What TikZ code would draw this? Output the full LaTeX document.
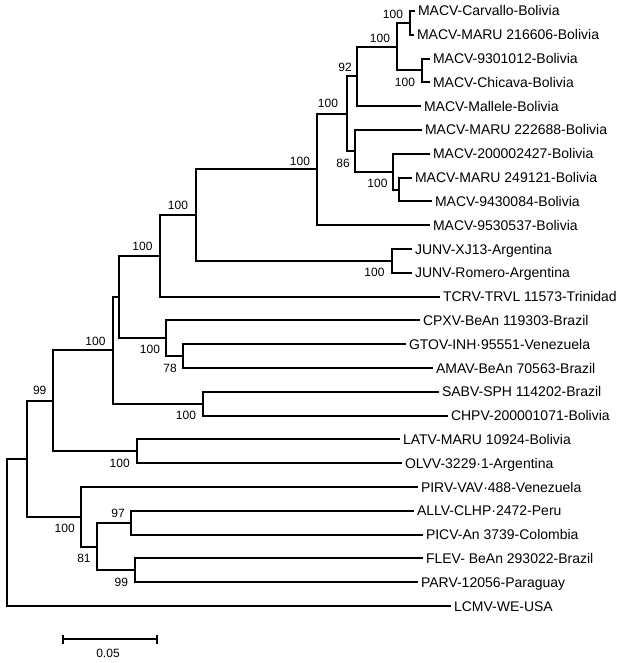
\documentclass[tikz,border=0pt]{standalone}
\usepackage{fontspec}
\setmainfont{Liberation Sans}
\usetikzlibrary{arrows.meta}

\begin{document}
\begin{tikzpicture}[x=1pt, y=-1pt]
    % Define styles
    \tikzstyle{taxon}=[anchor=west, inner sep=3pt, outer sep=0pt, text height=10pt, text depth=0pt, font=\fontsize{14}{16}\selectfont]
    \tikzstyle{boot}=[inner sep=0pt, text height=8.6pt, text depth=0pt, font=\fontsize{12}{14}\selectfont]
    \tikzstyle{branch}=[line width=2pt, line join=miter]

    \useasboundingbox (0,0) rectangle (631,663);

    % Taxa
    \node[taxon] (carvallo) at (415,11) {MACV-Carvallo-Bolivia};
    \node[taxon] (maru216) at (414,34.8) {MACV-MARU 216606-Bolivia};
    \node[taxon] (m9301) at (430,58.6) {MACV-9301012-Bolivia};
    \node[taxon] (chicava) at (430,82.4) {MACV-Chicava-Bolivia};
    \node[taxon] (mallele) at (421,106.2) {MACV-Mallele-Bolivia};
    \node[taxon] (maru222) at (422,130) {MACV-MARU 222688-Bolivia};
    \node[taxon] (m2000) at (430,153.8) {MACV-200002427-Bolivia};
    \node[taxon] (maru249) at (412,177.6) {MACV-MARU 249121-Bolivia};
    \node[taxon] (m9430) at (432,201.4) {MACV-9430084-Bolivia};
    \node[taxon] (m9530) at (430,225.2) {MACV-9530537-Bolivia};
    \node[taxon] (junxj) at (412,249) {JUNV-XJ13-Argentina};
    \node[taxon] (junrom) at (412,272.8) {JUNV-Romero-Argentina};
    \node[taxon] (tcrv) at (440,296.6) {TCRV-TRVL 11573-Trinidad};
    \node[taxon] (cpxv) at (420,320.4) {CPXV-BeAn 119303-Brazil};
    \node[taxon] (gtov) at (406,344.2) {GTOV-INH·95551-Venezuela};
    \node[taxon] (amav) at (433,368) {AMAV-BeAn 70563-Brazil};
    \node[taxon] (sabv) at (439,391.8) {SABV-SPH 114202-Brazil};
    \node[taxon] (chpv) at (448,415.6) {CHPV-200001071-Bolivia};
    \node[taxon] (latv) at (400,439.4) {LATV-MARU 10924-Bolivia};
    \node[taxon] (olvv) at (402,463.2) {OLVV-3229·1-Argentina};
    \node[taxon] (pirv) at (418,487) {PIRV-VAV·488-Venezuela};
    \node[taxon] (allv) at (414,510.8) {ALLV-CLHP·2472-Peru};
    \node[taxon] (picv) at (423,534.6) {PICV-An 3739-Colombia};
    \node[taxon] (flev) at (423,558.4) {FLEV- BeAn 293022-Brazil};
    \node[taxon] (parv) at (418,582.2) {PARV-12056-Paraguay};
    \node[taxon] (lcmv) at (451,606) {LCMV-WE-USA};

    % Internal nodes
    \coordinate (carvpair) at (410,22.9);
    \coordinate (chicpair) at (421.7,70.5);
    \coordinate (macvtop) at (396.7,46.7);
    \coordinate (macvA) at (357.3,76.45);
    \coordinate (marupair) at (399,189.5);
    \coordinate (macvB) at (393.3,171.65);
    \coordinate (macvC) at (355,150.8);
    \coordinate (macvin) at (346.7,113.6);
    \coordinate (macv) at (316.7,169.4);
    \coordinate (junpair) at (391.7,260.9);
    \coordinate (junmacv) at (195.7,215.15);
    \coordinate (tcrvclade) at (160,255.9);
    \coordinate (gtovpair) at (182.7,356.1);
    \coordinate (cpxvclade) at (165.7,338.25);
    \coordinate (cladeB) at (119,297.1);
    \coordinate (sabvpair) at (202.7,403.7);
    \coordinate (cladeBC) at (113.3,350.4);
    \coordinate (latvpair) at (136.7,451.3);
    \coordinate (newworld) at (53.3,400.85);
    \coordinate (allvpair) at (131,522.7);
    \coordinate (flevpair) at (134.7,570.3);
    \coordinate (cladeA) at (97.3,546.5);
    \coordinate (pirvclade) at (81,516.75);
    \coordinate (ingroup) at (26.7,458.8);
    \coordinate (root) at (6.7,532.4);

    % Bootstrap values
    \node[boot] (bcarv) at (393,14) {100};
    \node[boot] (btop) at (380,38) {100};
    \node[boot] (bchic) at (405,82) {100};
    \node[boot] (bA) at (345,67) {92};
    \node[boot] (bin) at (328,103) {100};
    \node[boot] (bC) at (343,163) {86};
    \node[boot] (bmaru) at (377.5,183) {100};
    \node[boot] (bmacv) at (300,161) {100};
    \node[boot] (bjun) at (374.5,272) {100};
    \node[boot] (bjunmacv) at (178,205) {100};
    \node[boot] (btcrv) at (142.5,246) {100};
    \node[boot] (bcpxv) at (150,349) {100};
    \node[boot] (bgtov) at (170,368) {78};
    \node[boot] (bsabv) at (186,415) {100};
    \node[boot] (bBC) at (95.5,341) {100};
    \node[boot] (bnew) at (39.7,390) {99};
    \node[boot] (blatv) at (119.7,463) {100};
    \node[boot] (bpirv) at (64.7,528) {100};
    \node[boot] (bA81) at (84,558) {81};
    \node[boot] (ballv) at (118,513) {97};
    \node[boot] (bflev) at (121.3,582) {99};

    % Branches
    \draw[branch] (carvpair) |- (carvallo.west);
    \draw[branch] (carvpair) |- (maru216.west);
    \draw[branch] (chicpair) |- (m9301.west);
    \draw[branch] (chicpair) |- (chicava.west);
    \draw[branch] (macvtop) |- (carvpair);
    \draw[branch] (macvtop) |- (chicpair);
    \draw[branch] (macvA) |- (macvtop);
    \draw[branch] (macvA) |- (mallele.west);
    \draw[branch] (marupair) |- (maru249.west);
    \draw[branch] (marupair) |- (m9430.west);
    \draw[branch] (macvB) |- (m2000.west);
    \draw[branch] (macvB) |- (marupair);
    \draw[branch] (macvC) |- (maru222.west);
    \draw[branch] (macvC) |- (macvB);
    \draw[branch] (macvin) |- (macvA);
    \draw[branch] (macvin) |- (macvC);
    \draw[branch] (macv) |- (macvin);
    \draw[branch] (macv) |- (m9530.west);
    \draw[branch] (junpair) |- (junxj.west);
    \draw[branch] (junpair) |- (junrom.west);
    \draw[branch] (junmacv) |- (macv);
    \draw[branch] (junmacv) |- (junpair);
    \draw[branch] (tcrvclade) |- (junmacv);
    \draw[branch] (tcrvclade) |- (tcrv.west);
    \draw[branch] (gtovpair) |- (gtov.west);
    \draw[branch] (gtovpair) |- (amav.west);
    \draw[branch] (cpxvclade) |- (cpxv.west);
    \draw[branch] (cpxvclade) |- (gtovpair);
    \draw[branch] (cladeB) |- (tcrvclade);
    \draw[branch] (cladeB) |- (cpxvclade);
    \draw[branch] (sabvpair) |- (sabv.west);
    \draw[branch] (sabvpair) |- (chpv.west);
    \draw[branch] (cladeBC) |- (cladeB);
    \draw[branch] (cladeBC) |- (sabvpair);
    \draw[branch] (latvpair) |- (latv.west);
    \draw[branch] (latvpair) |- (olvv.west);
    \draw[branch] (newworld) |- (cladeBC);
    \draw[branch] (newworld) |- (latvpair);
    \draw[branch] (allvpair) |- (allv.west);
    \draw[branch] (allvpair) |- (picv.west);
    \draw[branch] (flevpair) |- (flev.west);
    \draw[branch] (flevpair) |- (parv.west);
    \draw[branch] (cladeA) |- (allvpair);
    \draw[branch] (cladeA) |- (flevpair);
    \draw[branch] (pirvclade) |- (pirv.west);
    \draw[branch] (pirvclade) |- (cladeA);
    \draw[branch] (ingroup) |- (newworld);
    \draw[branch] (ingroup) |- (pirvclade);
    \draw[branch] (root) |- (ingroup);
    \draw[branch] (root) |- (lcmv.west);

    % Scale bar
    \coordinate (barleft) at (61.7,639.3);
    \coordinate (barright) at (157.7,639.3);
    \draw[branch, {Bar[width=9pt]}-{Bar[width=9pt]}] (barleft) -- (barright);
    \node[boot] (barlabel) at (108,653) {0.05};
\end{tikzpicture}
\end{document}
